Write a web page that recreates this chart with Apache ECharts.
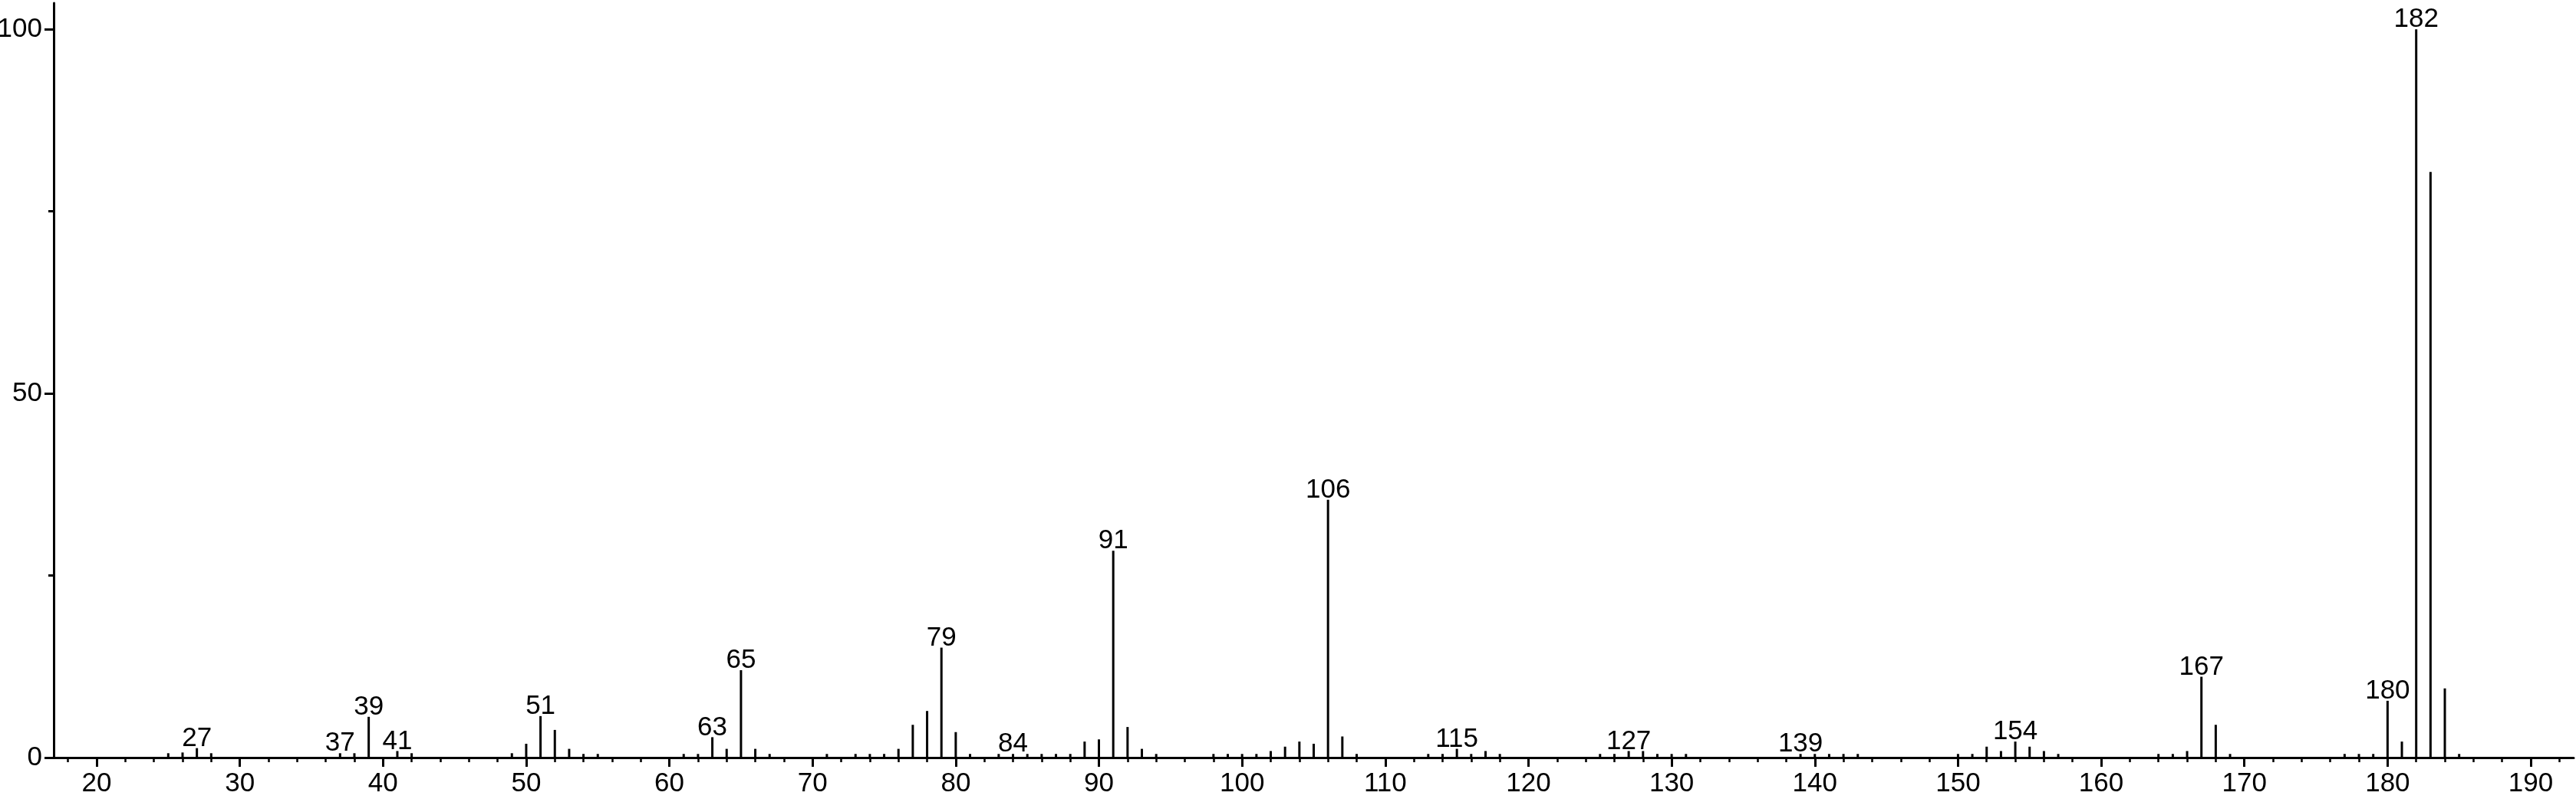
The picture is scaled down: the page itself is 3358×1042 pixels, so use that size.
<!DOCTYPE html>
<html>
<head>
<meta charset="utf-8">
<script src="https://cdn.jsdelivr.net/npm/echarts@6/dist/echarts.min.js"></script>
<style>
html,body{margin:0;padding:0;background:#fff;}
#chart{width:3358px;height:1042px;}
</style>
</head>
<body>
<div id="chart"></div>
<script>
// m/z values and relative intensities
const mzValues = [25,26,27,28,37,38,39,41,42,49,50,51,52,53,54,55,61,62,63,64,65,66,67,71,73,74,75,76,77,78,79,80,81,83,84,85,86,87,88,89,90,91,92,93,94,98,99,100,101,102,103,104,105,106,107,108,113,114,115,116,117,118,125,126,127,128,129,130,131,139,140,141,142,143,150,151,152,153,154,155,156,157,164,165,166,167,168,169,177,178,179,180,181,182,183,184,185];
const intensities = [0.6,0.7,1.3,0.6,0.6,0.6,5.6,0.9,0.6,0.6,1.9,5.7,3.8,1.2,0.5,0.5,0.5,0.5,2.8,1.2,12.0,1.2,0.5,0.5,0.5,0.5,0.5,1.2,4.5,6.4,15.1,3.5,0.5,0.5,0.5,0.5,0.5,0.5,0.5,2.2,2.5,28.4,4.2,1.2,0.5,0.5,0.5,0.5,0.5,0.9,1.5,2.2,1.9,35.4,2.9,0.5,0.5,0.5,1.2,0.5,0.9,0.5,0.5,0.5,0.9,0.9,0.5,0.5,0.5,0.5,0.5,0.5,0.5,0.5,0.5,0.5,1.5,0.9,2.2,1.5,0.9,0.5,0.5,0.5,0.9,11.1,4.5,0.5,0.5,0.5,0.5,7.8,2.2,100,80.4,9.5,0.5];
const labeledPeaks = [27,37,39,41,51,63,65,79,84,91,106,115,127,139,154,167,180,182];
const xMajorTicks = [20,30,40,50,60,70,80,90,100,110,120,130,140,150,160,170,180,190];
const xMinorTicks = [18,22,24,26,28,32,34,36,38,42,44,46,48,52,54,56,58,62,64,66,68,72,74,76,78,82,84,86,88,92,94,96,98,102,104,106,108,112,114,116,118,122,124,126,128,132,134,136,138,142,144,146,148,152,154,156,158,162,164,166,168,172,174,176,178,182,184,186,188,192];
const yMajorTicks = [0,50,100];
const yMinorTicks = [25,75];

const FONT = '"Liberation Sans", Arial, Helvetica, sans-serif';
const seriesData = mzValues.map((m, i) => [m, intensities[i]]);

const chart = echarts.init(document.getElementById('chart'), null, {renderer: 'canvas'});
chart.setOption({
  animation: false,
  backgroundColor: '#ffffff',
  grid: {left: 70, right: 3, top: 4, bottom: 54, containLabel: false, outerBoundsMode: 'none'},
  xAxis: [
    {
      type: 'value', min: 17, max: 193, position: 'bottom',
      axisLine: {show: true, onZero: false, lineStyle: {color: '#000', width: 3}},
      axisTick: {show: true, customValues: xMajorTicks, length: 12, lineStyle: {color: '#000', width: 3}},
      axisLabel: {show: true, customValues: xMajorTicks, margin: 17, color: '#000', fontSize: 35, fontFamily: FONT},
      splitLine: {show: false}
    },
    {
      type: 'value', min: 17, max: 193, position: 'bottom', gridIndex: 0,
      axisLine: {show: false, onZero: false},
      axisTick: {show: true, customValues: xMinorTicks, length: 6, lineStyle: {color: '#000', width: 2.5}},
      axisLabel: {show: false},
      splitLine: {show: false}
    }
  ],
  yAxis: [
    {
      type: 'value', min: 0, max: 103.6, position: 'left',
      axisLine: {show: true, onZero: false, lineStyle: {color: '#000', width: 3}},
      axisTick: {show: true, customValues: yMajorTicks, length: 12, lineStyle: {color: '#000', width: 3}},
      axisLabel: {show: true, customValues: yMajorTicks, margin: 15, color: '#000', fontSize: 35, fontFamily: FONT},
      splitLine: {show: false}
    },
    {
      type: 'value', min: 0, max: 103.6, position: 'left',
      axisLine: {show: false, onZero: false},
      axisTick: {show: true, customValues: yMinorTicks, length: 7, lineStyle: {color: '#000', width: 3}},
      axisLabel: {show: false},
      splitLine: {show: false}
    }
  ],
  series: [{
    type: 'bar',
    xAxisIndex: 0,
    yAxisIndex: 0,
    data: seriesData,
    barWidth: 3,
    itemStyle: {color: '#000'},
    z: 5,
    label: {
      show: true,
      position: 'top',
      distance: 4,
      offset: [0, 9],
      color: '#000',
      fontSize: 35,
      fontFamily: FONT,
      formatter: p => labeledPeaks.includes(p.value[0]) ? String(p.value[0]) : ''
    }
  }]
});
</script>
</body>
</html>
